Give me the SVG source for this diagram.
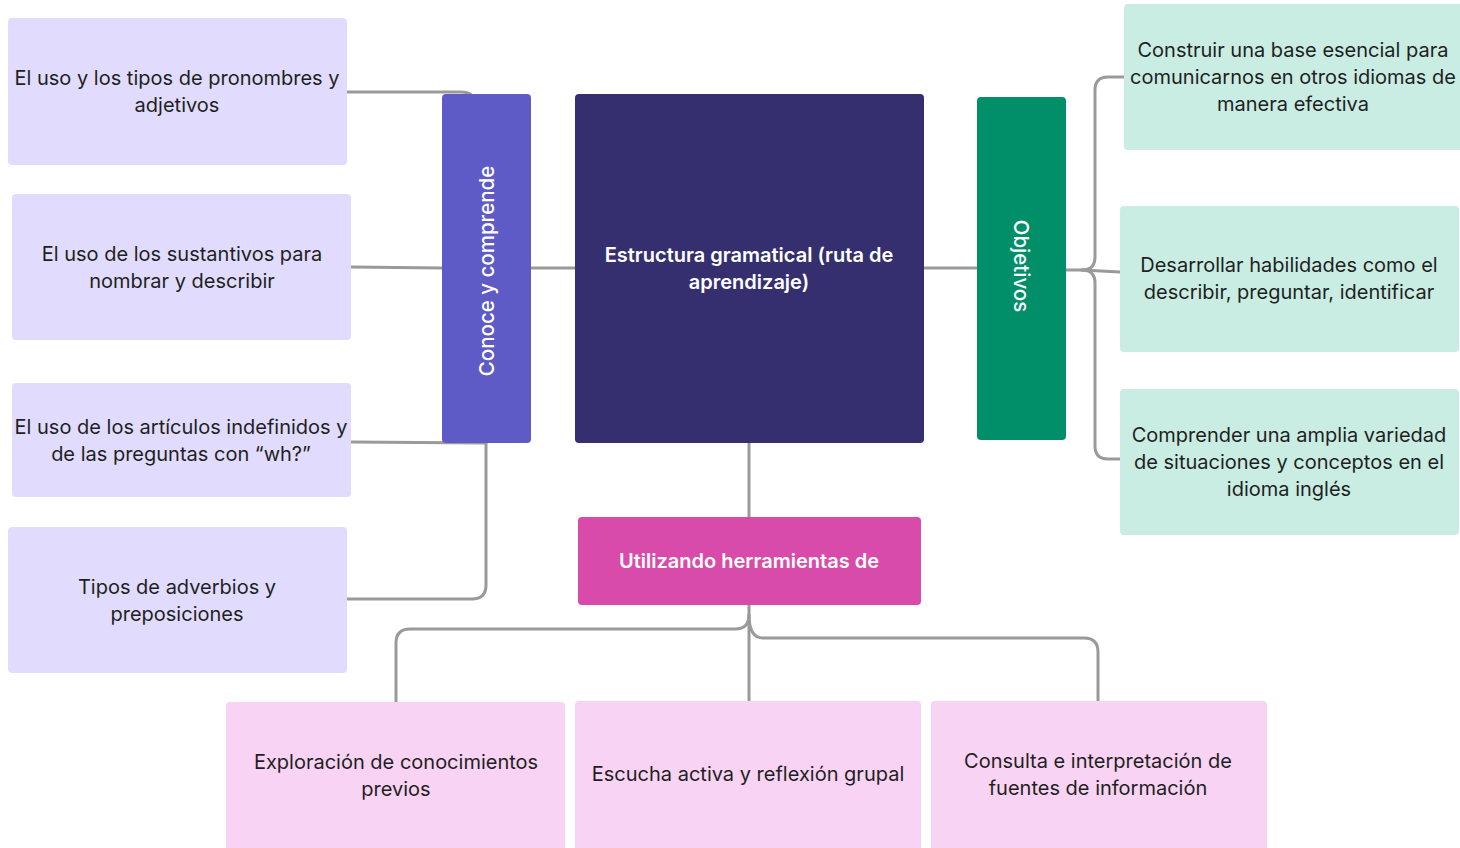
<svg xmlns="http://www.w3.org/2000/svg" width="1460" height="848" viewBox="0 0 1460 848">
  <style>
    .t { font-family: Inter, "Noto Sans", "Liberation Sans", sans-serif; font-size: 20px; fill: #1f1f1f; text-anchor: middle; }
    .w { font-family: Inter, "Noto Sans", "Liberation Sans", sans-serif; font-size: 20px; fill: #ffffff; text-anchor: middle; font-weight: 600; }
    .wr { font-family: Inter, "Noto Sans", "Liberation Sans", sans-serif; font-size: 20.5px; fill: #ffffff; text-anchor: middle; font-weight: 500; }
    .lav { fill: #e1dcfe; }
    .mint { fill: #c9ede3; }
    .pink { fill: #f8d3f3; }
    .edge { fill: none; stroke: #9a9a9a; stroke-width: 3; stroke-linecap: round; stroke-linejoin: round; }
  </style>
  <rect width="1460" height="848" fill="#ffffff"/>

  <!-- connectors -->
  <g id="connectors">
    <path class="edge" d="M347 92 H460 Q470 92 472 96"/>
    <path class="edge" d="M351 267 L442 268"/>
    <path class="edge" d="M351 442 L486 443"/>
    <path class="edge" d="M486 443 V585 Q486 599 472 599 H347"/>
    <path class="edge" d="M531 268 H575"/>
    <path class="edge" d="M924 268 H977"/>
    <path class="edge" d="M749 443 V517"/>
    <path class="edge" d="M1066 270 H1082 Q1095 270 1095 257 V90 Q1095 77 1108 77 H1124"/>
    <path class="edge" d="M1082 270 L1120 272"/>
    <path class="edge" d="M1082 270 Q1095 270 1095 283 V446 Q1095 459 1108 459 H1120"/>
    <path class="edge" d="M749 605 V701"/>
    <path class="edge" d="M749 615 Q749 629 735 629 H410 Q396 629 396 643 V702"/>
    <path class="edge" d="M749 615 Q749 638 763 638 H1084 Q1098 638 1098 652 V701"/>
  </g>

  <!-- left branch -->
  <g id="n-pronombres">
    <rect class="lav" x="8" y="18" width="339" height="147" rx="4"/>
    <text class="t" x="177" y="85">El uso y los tipos de pronombres y</text>
    <text class="t" x="177" y="112">adjetivos</text>
  </g>
  <g id="n-sustantivos">
    <rect class="lav" x="12" y="194" width="339" height="146" rx="4"/>
    <text class="t" x="182" y="261">El uso de los sustantivos para</text>
    <text class="t" x="182" y="288">nombrar y describir</text>
  </g>
  <g id="n-articulos">
    <rect class="lav" x="12" y="383" width="339" height="114" rx="4"/>
    <text class="t" x="181" y="434">El uso de los artículos indefinidos y</text>
    <text class="t" x="181" y="461">de las preguntas con “wh?”</text>
  </g>
  <g id="n-adverbios">
    <rect class="lav" x="8" y="527" width="339" height="146" rx="4"/>
    <text class="t" x="177" y="594">Tipos de adverbios y</text>
    <text class="t" x="177" y="621">preposiciones</text>
  </g>

  <g id="n-conoce">
    <rect x="442" y="94" width="89" height="349" rx="4" fill="#5f5bc6"/>
    <text class="wr" transform="translate(494 271) rotate(-90)">Conoce y comprende</text>
  </g>

  <!-- central topic -->
  <g id="n-central">
    <rect x="575" y="94" width="349" height="349" rx="4" fill="#352f6f"/>
    <text class="w" x="749" y="262">Estructura gramatical (ruta de</text>
    <text class="w" x="749" y="289">aprendizaje)</text>
  </g>

  <!-- right branch -->
  <g id="n-objetivos">
    <rect x="977" y="97" width="89" height="343" rx="4" fill="#018f6a"/>
    <text class="wr" transform="translate(1014 266) rotate(90)">Objetivos</text>
  </g>
  <g id="n-base">
    <rect class="mint" x="1124" y="4" width="340" height="146" rx="4"/>
    <text class="t" x="1293" y="57">Construir una base esencial para</text>
    <text class="t" x="1293" y="84">comunicarnos en otros idiomas de</text>
    <text class="t" x="1293" y="111">manera efectiva</text>
  </g>
  <g id="n-habilidades">
    <rect class="mint" x="1120" y="206" width="339" height="146" rx="4"/>
    <text class="t" x="1289" y="272">Desarrollar habilidades como el</text>
    <text class="t" x="1289" y="299">describir, preguntar, identificar</text>
  </g>
  <g id="n-comprender">
    <rect class="mint" x="1120" y="389" width="339" height="146" rx="4"/>
    <text class="t" x="1289" y="442">Comprender una amplia variedad</text>
    <text class="t" x="1289" y="469">de situaciones y conceptos en el</text>
    <text class="t" x="1289" y="496">idioma inglés</text>
  </g>

  <!-- bottom branch -->
  <g id="n-herramientas">
    <rect x="578" y="517" width="343" height="88" rx="4" fill="#d94bab"/>
    <text class="w" x="749" y="568">Utilizando herramientas de</text>
  </g>
  <g id="n-exploracion">
    <rect class="pink" x="226" y="702" width="339" height="150" rx="4"/>
    <text class="t" x="396" y="769">Exploración de conocimientos</text>
    <text class="t" x="396" y="796">previos</text>
  </g>
  <g id="n-escucha">
    <rect class="pink" x="575" y="701" width="346" height="151" rx="4"/>
    <text class="t" x="748" y="781">Escucha activa y reflexión grupal</text>
  </g>
  <g id="n-consulta">
    <rect class="pink" x="931" y="701" width="336" height="151" rx="4"/>
    <text class="t" x="1098" y="768">Consulta e interpretación de</text>
    <text class="t" x="1098" y="795">fuentes de información</text>
  </g>
</svg>
